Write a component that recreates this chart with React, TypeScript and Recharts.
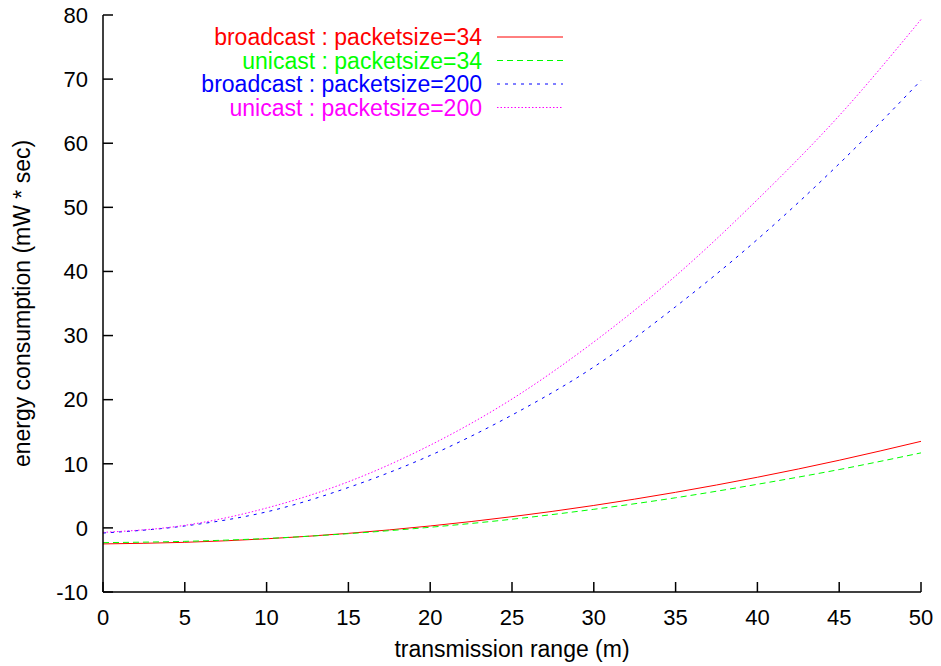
import { LineChart, Line, XAxis, YAxis, Legend } from "recharts";

// transmission range (m)
const ranges = [0, 5, 10, 15, 20, 25, 30, 35, 40, 45, 50];

// energy consumption (mW * sec)
const broadcast34 = [-2.5, -2.25, -1.7, -0.85, 0.3, 1.75, 3.5, 5.55, 7.9, 10.55, 13.5];
const unicast34 = [-2.3, -2.1, -1.65, -0.9, 0.1, 1.35, 2.9, 4.7, 6.8, 9.1, 11.7];
const broadcast200 = [-0.8, 0.3, 2.5, 6.3, 11.3, 17.6, 25.1, 34.5, 45.0, 56.8, 69.8];
const unicast200 = [-0.7, 0.4, 3.1, 7.2, 12.9, 20.1, 29.0, 39.3, 51.2, 64.3, 79.3];

const seriesNames = [
  "broadcast : packetsize=34",
  "unicast : packetsize=34",
  "broadcast : packetsize=200",
  "unicast : packetsize=200",
];

const xTicks = [0, 5, 10, 15, 20, 25, 30, 35, 40, 45, 50];
const yTicks = [-10, 0, 10, 20, 30, 40, 50, 60, 70, 80];

const data = ranges.map((r, i) => ({
  range: r,
  b34: broadcast34[i],
  u34: unicast34[i],
  b200: broadcast200[i],
  u200: unicast200[i],
}));

const FONT = "'Liberation Sans', Arial, Helvetica, sans-serif";
const TICK_FS = 22;
const FS = 23;

// gnuplot-style key: right aligned title, then a sample of the line
function KeyBox({ payload }: any) {
  const items = ((payload || []) as any[])
    .slice()
    .sort((a, b) => seriesNames.indexOf(a.value) - seriesNames.indexOf(b.value));
  return (
    <svg width={400} height={100} style={{ display: "block" }}>
      {items.map((p, i) => {
        const y = 12 + i * 23.5;
        return (
          <g key={p.value}>
            <text
              x={302}
              y={y + 8}
              textAnchor="end"
              fill={p.color}
              fontSize={FS}
              fontFamily={FONT}
            >
              {p.value}
            </text>
            <line
              x1={317}
              x2={383}
              y1={y}
              y2={y}
              stroke={p.color}
              strokeDasharray={p.payload?.strokeDasharray}
            />
          </g>
        );
      })}
    </svg>
  );
}

export default function App() {
  const tickStyle = { fontSize: TICK_FS, fontFamily: FONT, fill: "#000" };
  return (
    <div style={{ position: "absolute", left: 0, top: 0, width: 941, height: 666, background: "#fff" }}>
      <LineChart
        width={941}
        height={666}
        data={data}
        margin={{ top: 15, right: 20, bottom: 0, left: 0 }}
      >
        <XAxis
          dataKey="range"
          type="number"
          domain={[0, 50]}
          ticks={xTicks}
          height={74}
          tickSize={-10}
          tickMargin={27}
          tick={tickStyle}
          axisLine={{ stroke: "#000", strokeWidth: 1.5 }}
          tickLine={{ stroke: "#000", strokeWidth: 1.5 }}
          label={{
            value: "transmission range (m)",
            position: "insideBottom",
            offset: 9,
            style: { fontSize: FS, fontFamily: FONT, fill: "#000" },
          }}
        />
        <XAxis
          xAxisId="top"
          orientation="top"
          type="number"
          domain={[0, 50]}
          ticks={xTicks}
          height={0}
          tickSize={-10}
          tickFormatter={() => ""}
          axisLine={{ stroke: "#000", strokeWidth: 1.5 }}
          tickLine={{ stroke: "#000", strokeWidth: 1.5 }}
        />
        <YAxis
          type="number"
          domain={[-10, 80]}
          ticks={yTicks}
          width={103}
          tickSize={-10}
          tickMargin={25}
          tick={tickStyle}
          axisLine={{ stroke: "#000", strokeWidth: 1.5 }}
          tickLine={{ stroke: "#000", strokeWidth: 1.5 }}
          label={{
            value: "energy consumption (mW * sec)",
            angle: -90,
            position: "insideLeft",
            offset: 22,
            style: { fontSize: FS, fontFamily: FONT, fill: "#000", textAnchor: "middle" },
          }}
        />
        <YAxis
          yAxisId="right"
          orientation="right"
          type="number"
          domain={[-10, 80]}
          ticks={yTicks}
          width={0}
          tickSize={-10}
          tickFormatter={() => ""}
          axisLine={{ stroke: "#000", strokeWidth: 1.5 }}
          tickLine={{ stroke: "#000", strokeWidth: 1.5 }}
        />
        <Legend
          layout="vertical"
          align="center"
          verticalAlign="middle"
          content={KeyBox}
          wrapperStyle={{ position: "absolute", left: 180, top: 25, width: 400, height: 100 }}
        />
        <Line
          name={seriesNames[0]}
          dataKey="b34"
          type="monotone"
          stroke="#ff0000"
          strokeWidth={1}
          dot={false}
          isAnimationActive={false}
        />
        <Line
          name={seriesNames[1]}
          dataKey="u34"
          type="monotone"
          stroke="#00ff00"
          strokeWidth={1}
          strokeDasharray="6 4"
          dot={false}
          isAnimationActive={false}
        />
        <Line
          name={seriesNames[2]}
          dataKey="b200"
          type="monotone"
          stroke="#0000ff"
          strokeWidth={1}
          strokeDasharray="3 5"
          dot={false}
          isAnimationActive={false}
        />
        <Line
          name={seriesNames[3]}
          dataKey="u200"
          type="monotone"
          stroke="#ff00ff"
          strokeWidth={1}
          strokeDasharray="1.5 2"
          dot={false}
          isAnimationActive={false}
        />
      </LineChart>
    </div>
  );
}
